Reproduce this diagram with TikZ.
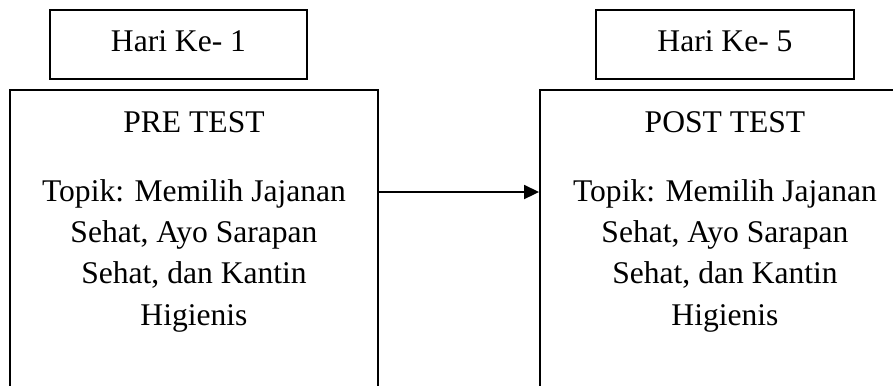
\documentclass[tikz,border=0pt]{standalone}
\usepackage{fontspec}
\setmainfont{Liberation Serif}
\usetikzlibrary{arrows.meta}
\usetikzlibrary{positioning}

\begin{document}
\begin{tikzpicture}[x=0.38pt, y=-0.38pt, font=\fontsize{12}{15.6}\selectfont,
		box/.style={draw, line width=0.75pt, inner sep=0pt},
		daybox/.style={box, minimum width=97.7pt, minimum height=26.2pt, text height=8pt, text depth=3pt},
		testbox/.style={box, minimum width=139.8pt, minimum height=126pt, anchor=north},
		txt/.style={anchor=base, align=center, inner sep=0pt}]
	\useasboundingbox (0,0) rectangle (893,385);
	\clip (0,0) rectangle (893,385);
	% day labels
	\node[daybox] (day1) at (178.5,44.5) {Hari Ke- 1};
	\node[daybox] (day5) at (725,44.5) {Hari Ke- 5};
	
	% test boxes, running off the bottom
	\node[testbox] (pre) at (194,89) {};
	\node[testbox] (post) at (724,89) {};
	\node[txt] (pretitle) at (194,132) {PRE TEST};
	\node[txt] (posttitle) at (725,132) {POST TEST};
	% base = last line of the topic
	\node[txt] (pretopic) at (194,325) {Topik: Memilih Jajanan\\Sehat, Ayo Sarapan\\Sehat, dan Kantin\\Higienis};
	\node[txt] (posttopic) at (725,325) {Topik: Memilih Jajanan\\Sehat, Ayo Sarapan\\Sehat, dan Kantin\\Higienis};
	
	% add arrow
	\coordinate (arrowrow) at (0,192);
	\draw[line width=0.75pt, -{Triangle[length=5.7pt,width=5.3pt]}] (pre.east |- arrowrow) -- (post.west |- arrowrow);
\end{tikzpicture}
\end{document}
